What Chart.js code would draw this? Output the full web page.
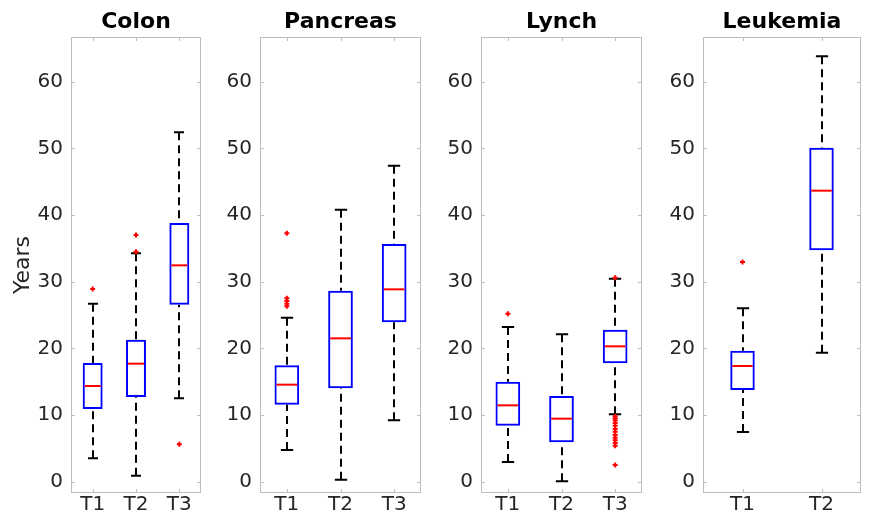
<!DOCTYPE html>
<html>
<head>
<meta charset="utf-8">
<script src="https://cdn.jsdelivr.net/npm/chart.js@4.4.1/dist/chart.umd.min.js"></script>
<style>
  body { margin: 0; background: #fff; width: 874px; height: 527px; position: relative; overflow: hidden; }
  .panel { position: absolute; top: 0; height: 527px; }
</style>
</head>
<body>
<div class="panel" style="left:0px;width:207px"><canvas id="c0"></canvas></div>
<div class="panel" style="left:220px;width:207px"><canvas id="c1"></canvas></div>
<div class="panel" style="left:441px;width:207px"><canvas id="c2"></canvas></div>
<div class="panel" style="left:663px;width:204px"><canvas id="c3"></canvas></div>
<script>
// Данные (годы)
const yTicks = [0, 10, 20, 30, 40, 50, 60];

const colonLabels = ['T1', 'T2', 'T3'];
const colonQ1 = [10.9, 12.7, 26.55];
const colonMed = [14.35, 17.7, 32.45];
const colonQ3 = [17.8, 21.3, 38.8];
const colonLo = [3.5, 0.9, 12.5];
const colonHi = [26.7, 34.25, 52.4];
const colonOut = [[28.9], [34.5, 37.0], [5.6]];

const pancLabels = ['T1', 'T2', 'T3'];
const pancQ1 = [11.55, 14.0, 23.9];
const pancMed = [14.55, 21.5, 28.85];
const pancQ3 = [17.45, 28.65, 35.65];
const pancLo = [4.75, 0.3, 9.2];
const pancHi = [24.6, 40.8, 47.4];
const pancOut = [[26.3, 26.7, 27.1, 27.5, 37.25], [], []];

const lynchLabels = ['T1', 'T2', 'T3'];
const lynchQ1 = [8.4, 5.9, 17.75];
const lynchMed = [11.45, 9.45, 20.3];
const lynchQ3 = [15.0, 12.85, 22.8];
const lynchLo = [2.95, 0.05, 10.1];
const lynchHi = [23.2, 22.1, 30.45];
const lynchOut = [[25.2], [], [30.6, 9.8, 9.5, 9.2, 8.8, 8.4, 7.9, 7.5, 7.0, 6.6, 6.2, 5.8, 5.4, 2.5]];

const leukLabels = ['T1', 'T2'];
const leukQ1 = [13.75, 34.7];
const leukMed = [17.35, 43.65];
const leukQ3 = [19.65, 50.1];
const leukLo = [7.45, 19.35];
const leukHi = [26.0, 63.8];
const leukOut = [[32.95], []];

// Оформление
const FONT = "'DejaVu Sans', sans-serif";
const TEXT = '#262626';
const AXIS = '#bdbdbd';

// Усы, медианы, рамка и внутренние засечки
const boxPlugin = {
    id: 'boxPlugin',
    beforeDatasetsDraw(chart) {
        const ctx = chart.ctx;
        const ys = chart.scales.y;
        const ds = chart.data.datasets[0];
        const meta = chart.getDatasetMeta(0);
        ctx.save();
        ctx.strokeStyle = '#000';
        ctx.lineWidth = 2;
        meta.data.forEach((bar, i) => {
            const x = Math.round(bar.x);
            const cap = bar.width / 4;
            ctx.setLineDash([8, 5]);
            ctx.beginPath();
            ctx.moveTo(x, ys.getPixelForValue(ds.hi[i]));
            ctx.lineTo(x, ys.getPixelForValue(ds.data[i][1]));
            ctx.moveTo(x, ys.getPixelForValue(ds.lo[i]));
            ctx.lineTo(x, ys.getPixelForValue(ds.data[i][0]));
            ctx.stroke();
            ctx.setLineDash([]);
            ctx.beginPath();
            [ds.hi[i], ds.lo[i]].forEach(v => {
                const py = ys.getPixelForValue(v);
                ctx.moveTo(x - cap, py);
                ctx.lineTo(x + cap, py);
            });
            ctx.stroke();
        });
        ctx.restore();
    },
    afterDatasetsDraw(chart) {
        const ctx = chart.ctx;
        const ys = chart.scales.y;
        const xs = chart.scales.x;
        const ds = chart.data.datasets[0];
        const meta = chart.getDatasetMeta(0);
        const a = chart.chartArea;
        ctx.save();
        ctx.strokeStyle = '#ff0000';
        ctx.lineWidth = 2;
        meta.data.forEach((bar, i) => {
            const py = ys.getPixelForValue(ds.med[i]);
            ctx.beginPath();
            ctx.moveTo(bar.x - bar.width / 2 + 2, py);
            ctx.lineTo(bar.x + bar.width / 2 - 2, py);
            ctx.stroke();
        });
        // рамка осей
        ctx.strokeStyle = AXIS;
        ctx.lineWidth = 1;
        ctx.strokeRect(a.left + 0.5, a.top + 0.5, a.right - a.left - 1, a.bottom - a.top - 1);
        ctx.beginPath();
        yTicks.forEach(v => {
            const py = Math.round(ys.getPixelForValue(v)) + 0.5;
            ctx.moveTo(a.left, py); ctx.lineTo(a.left + 4, py);
            ctx.moveTo(a.right, py); ctx.lineTo(a.right - 4, py);
        });
        chart.data.labels.forEach((l, i) => {
            const px = Math.round(xs.getPixelForValue(i)) + 0.5;
            ctx.moveTo(px, a.top); ctx.lineTo(px, a.top + 4);
            ctx.moveTo(px, a.bottom); ctx.lineTo(px, a.bottom - 4);
        });
        ctx.stroke();
        ctx.restore();
    }
};

function makePanel(id, title, labels, q1, med, q3, lo, hi, out, boxFrac, yTitle) {
    const outPts = [];
    out.forEach((vals, i) => vals.forEach(v => outPts.push({ x: labels[i], y: v })));

    new Chart(document.getElementById(id), {
        type: 'bar',
        data: {
            labels: labels,
            datasets: [
                {
                    type: 'bar',
                    data: labels.map((l, i) => [q1[i], q3[i]]),
                    med: med, lo: lo, hi: hi,
                    backgroundColor: 'rgba(0,0,0,0)',
                    borderColor: '#0000ff',
                    borderWidth: 2,
                    borderSkipped: false,
                    barPercentage: boxFrac,
                    categoryPercentage: 1,
                    order: 1
                },
                {
                    type: 'scatter',
                    data: outPts,
                    pointStyle: 'cross',
                    radius: 2.5,
                    borderColor: '#ff0000',
                    borderWidth: 2,
                    order: 0
                }
            ]
        },
        options: {
            responsive: true,
            maintainAspectRatio: false,
            animation: false,
            layout: { padding: { left: 0, right: 2, top: 0, bottom: 0 } },
            plugins: {
                legend: { display: false },
                tooltip: { enabled: false },
                title: {
                    display: true,
                    text: title,
                    color: '#000',
                    fullSize: false,
                    font: { family: FONT, size: 22, weight: 'bold' },
                    padding: { top: 9, bottom: 1.6 }
                }
            },
            scales: {
                x: {
                    type: 'category',
                    offset: true,
                    grid: { display: false, drawTicks: false },
                    border: { display: false },
                    ticks: { color: TEXT, font: { family: FONT, size: 20 }, padding: 0, maxRotation: 0 },
                    afterFit: s => { s.height = 34; }
                },
                y: {
                    min: -1.7,
                    max: 66.7,
                    grid: { display: false, drawTicks: false },
                    border: { display: false },
                    afterBuildTicks: s => { s.ticks = yTicks.map(v => ({ value: v })); },
                    ticks: { color: TEXT, font: { family: FONT, size: 20 }, padding: 8 },
                    title: {
                        display: !!yTitle,
                        text: yTitle || '',
                        color: TEXT,
                        font: { family: FONT, size: 22 },
                        padding: { top: 10, bottom: 0 }
                    },
                    afterFit: s => { s.width = yTitle ? 71 : 40; }
                }
            }
        },
        plugins: [boxPlugin]
    });
}

makePanel('c0', 'Colon', colonLabels, colonQ1, colonMed, colonQ3, colonLo, colonHi, colonOut, 0.46, 'Years');
makePanel('c1', 'Pancreas', pancLabels, pancQ1, pancMed, pancQ3, pancLo, pancHi, pancOut, 0.46);
makePanel('c2', 'Lynch', lynchLabels, lynchQ1, lynchMed, lynchQ3, lynchLo, lynchHi, lynchOut, 0.46);
makePanel('c3', 'Leukemia', leukLabels, leukQ1, leukMed, leukQ3, leukLo, leukHi, leukOut, 0.31);
</script>
</body>
</html>
